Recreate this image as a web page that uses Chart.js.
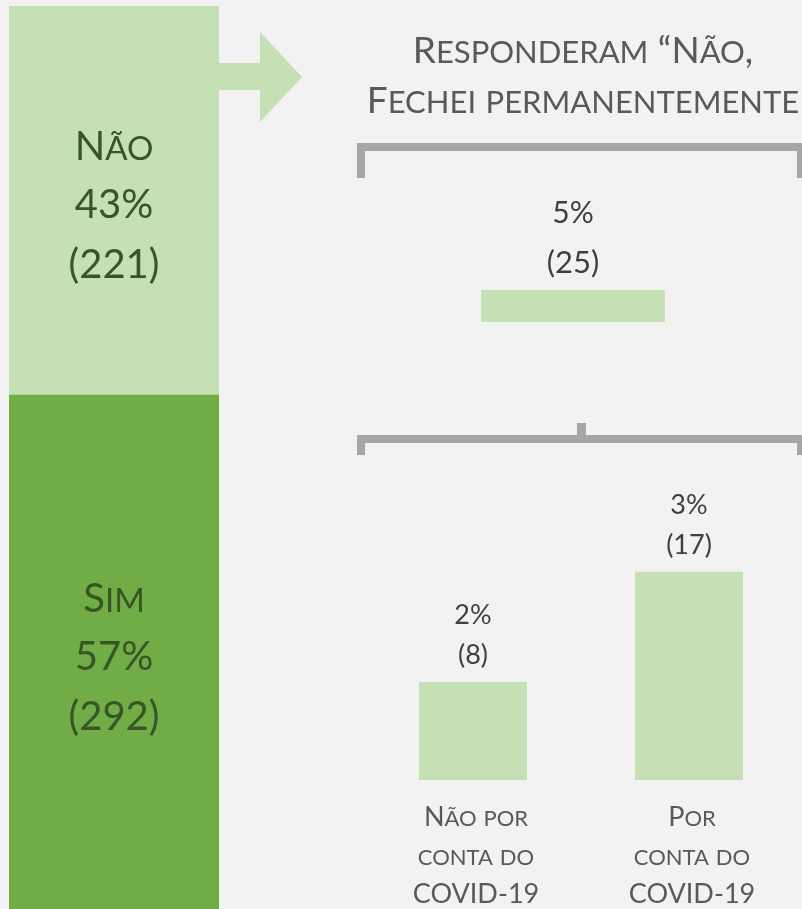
<!DOCTYPE html>
<html>
<head>
<meta charset="utf-8">
<script src="https://cdn.jsdelivr.net/npm/chart.js@4"></script>
<style>
    html, body { margin: 0; padding: 0; background: #f2f2f2; width: 802px; height: 909px; overflow: hidden; }
    canvas { position: absolute; }
    #main { left: 0; top: 0; }
    #leftBar { left: 9px; top: 6px; }
    #topBar { left: 373px; top: 180px; }
</style>
</head>
<body>
<canvas id="main" width="802" height="909"></canvas>
<canvas id="leftBar" width="210" height="905"></canvas>
<canvas id="topBar" width="400" height="142"></canvas>
<script>
// Data
const answerLabels = ["Sim", "Não"];
const answerPct = [57, 43];
const answerCount = [292, 221];

const titleLines = ["Responderam “Não,", "Fechei permanentemente"];
const closedPct = [5];
const closedCount = [25];

const reasonLabels = [["Não por", "conta do", "COVID-19"], ["Por", "conta do", "COVID-19"]];
const reasonPct = [2, 3];
const reasonCount = [8, 17];

// Colours
const LIGHT = "#c5e0b4";
const DARK = "#70ad47";
const GREEN_TEXT = "#375623";
const GREY = "#a6a6a6";
const FONT = "Lato";

// small caps by hand: lowercase letters drawn as smaller capitals
function drawSmallCaps(ctx, text, x, y, big, small) {
    const runs = [];
    for (const ch of text) {
        const size = ch !== ch.toUpperCase() ? small : big;
        const last = runs[runs.length - 1];
        if (last && last.size === size) last.t += ch.toUpperCase();
        else runs.push({ t: ch.toUpperCase(), size: size });
    }
    let total = 0;
    runs.forEach(r => {
        ctx.font = r.size + "px " + FONT;
        r.w = ctx.measureText(r.t).width;
        total += r.w;
    });
    let cx = x - total / 2;
    ctx.textAlign = "left";
    ctx.textBaseline = "alphabetic";
    runs.forEach(r => {
        ctx.font = r.size + "px " + FONT;
        ctx.fillText(r.t, cx, y);
        cx += r.w;
    });
}

function drawCentered(ctx, text, x, y, size) {
    ctx.font = size + "px " + FONT;
    ctx.textAlign = "center";
    ctx.textBaseline = "alphabetic";
    ctx.fillText(text, x, y);
}

// Arrow, brackets and title
const overlayPlugin = {
    id: "overlay",
    afterDraw(chart) {
        const ctx = chart.ctx;
        ctx.save();
        ctx.fillStyle = LIGHT;
        ctx.beginPath();
        ctx.moveTo(219, 63);
        ctx.lineTo(260, 63);
        ctx.lineTo(260, 32);
        ctx.lineTo(302, 77);
        ctx.lineTo(260, 122);
        ctx.lineTo(260, 90);
        ctx.lineTo(219, 90);
        ctx.closePath();
        ctx.fill();

        ctx.fillStyle = GREY;
        // top bracket
        ctx.fillRect(357, 143, 450, 8);
        ctx.fillRect(357, 143, 8, 35);
        ctx.fillRect(797, 143, 8, 35);
        // lower bracket
        ctx.fillRect(357, 435, 450, 8);
        ctx.fillRect(357, 435, 8, 20);
        ctx.fillRect(797, 435, 8, 20);
        ctx.fillRect(577, 423, 9, 14);

        ctx.fillStyle = "#595959";
        drawSmallCaps(ctx, titleLines[0], 583, 63, 37, 31);
        drawSmallCaps(ctx, titleLines[1], 583, 113, 37, 31);
        ctx.restore();
    }
};

// values above the two bars and category names below
const reasonLabelPlugin = {
    id: "reasonLabels",
    afterDatasetsDraw(chart) {
        const ctx = chart.ctx;
        const bottom = chart.scales.y.getPixelForValue(0);
        ctx.save();
        chart.getDatasetMeta(0).data.forEach((bar, i) => {
            ctx.fillStyle = "#404040";
            drawCentered(ctx, reasonPct[i] + "%", bar.x, bar.y - 58, 27);
            drawCentered(ctx, "(" + reasonCount[i] + ")", bar.x, bar.y - 18, 27);
            ctx.fillStyle = "#595959";
            const x = chart.scales.x.getPixelForValue(i);
            reasonLabels[i].forEach((line, j) => {
                drawSmallCaps(ctx, line, x + 3, bottom + 46 + j * 38.5, 27, 22);
            });
        });
        ctx.restore();
    }
};

new Chart(document.getElementById("main"), {
    type: "bar",
    data: {
        labels: reasonLabels,
        datasets: [{
            data: reasonCount,
            backgroundColor: LIGHT,
            barPercentage: 0.5,
            categoryPercentage: 1
        }]
    },
    options: {
        responsive: false,
        animation: false,
        layout: { padding: { left: 365, right: 5, top: 535, bottom: 129 } },
        plugins: { legend: { display: false }, tooltip: { enabled: false } },
        scales: {
            x: { display: false },
            y: { display: false, min: 0, max: 20 }
        }
    },
    plugins: [overlayPlugin, reasonLabelPlugin]
});

// Left stacked bar
const answerLabelPlugin = {
    id: "answerLabels",
    afterDatasetsDraw(chart) {
        const ctx = chart.ctx;
        ctx.save();
        ctx.fillStyle = GREEN_TEXT;
        chart.data.datasets.forEach((ds, i) => {
            const el = chart.getDatasetMeta(i).data[0];
            const mid = (el.y + el.base) / 2;
            drawSmallCaps(ctx, answerLabels[i], el.x, mid - 41, 40, 33);
            drawCentered(ctx, answerPct[i] + "%", el.x, mid + 17, 40);
            drawCentered(ctx, "(" + answerCount[i] + ")", el.x, mid + 77, 40);
        });
        ctx.restore();
    }
};

new Chart(document.getElementById("leftBar"), {
    type: "bar",
    data: {
        labels: [""],
        datasets: answerLabels.map((name, i) => ({
            label: name,
            data: [answerPct[i]],
            backgroundColor: i === 0 ? DARK : LIGHT,
            barPercentage: 1,
            categoryPercentage: 1
        }))
    },
    options: {
        responsive: false,
        animation: false,
        layout: { padding: 0 },
        plugins: { legend: { display: false }, tooltip: { enabled: false } },
        scales: {
            x: { display: false, stacked: true },
            y: { display: false, stacked: true, min: 0, max: 100 }
        }
    },
    plugins: [answerLabelPlugin]
});

// "Fechei permanentemente" bar, centred
const closedLabelPlugin = {
    id: "closedLabels",
    afterDatasetsDraw(chart) {
        const ctx = chart.ctx;
        const el = chart.getDatasetMeta(0).data[0];
        const cx = (el.x + el.base) / 2;
        const top = el.y - el.height / 2;
        ctx.save();
        ctx.fillStyle = "#404040";
        drawCentered(ctx, closedPct[0] + "%", cx, top - 67, 30);
        drawCentered(ctx, "(" + closedCount[0] + ")", cx, top - 17, 31);
        ctx.restore();
    }
};

new Chart(document.getElementById("topBar"), {
    type: "bar",
    data: {
        labels: [""],
        datasets: [{
            data: closedCount.map(v => [-v / 2, v / 2]),
            backgroundColor: LIGHT,
            barPercentage: 1,
            categoryPercentage: 1
        }]
    },
    options: {
        indexAxis: "y",
        responsive: false,
        animation: false,
        layout: { padding: { top: 110 } },
        plugins: { legend: { display: false }, tooltip: { enabled: false } },
        scales: {
            x: { display: false, min: -27.3, max: 27.3 },
            y: { display: false }
        }
    },
    plugins: [closedLabelPlugin]
});
</script>
</body>
</html>
